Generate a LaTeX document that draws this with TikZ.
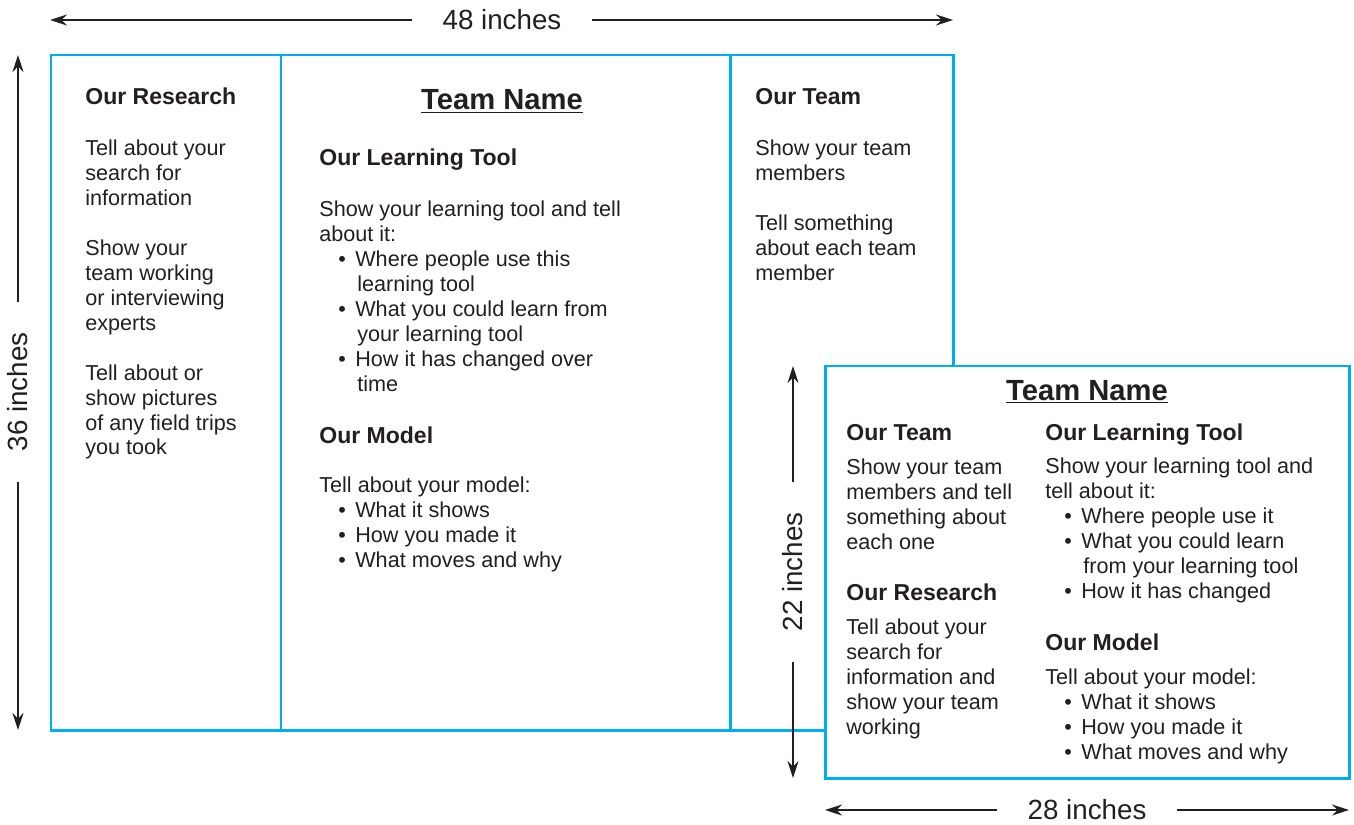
\documentclass[tikz,border=0pt]{standalone}
\usepackage{fontspec}
\setmainfont{Liberation Sans}
\usetikzlibrary{arrows.meta}
\definecolor{boardblue}{HTML}{00AEEF}
\definecolor{ink}{HTML}{231F20}
\newcommand{\bodyfont}{\fontsize{12.3}{14.2}\selectfont}
\newcommand{\headfont}{\fontsize{13.1}{15}\selectfont\bfseries}
\newcommand{\titlefont}{\fontsize{16.6}{19}\selectfont\bfseries}
\newcommand{\dimfont}{\fontsize{15.8}{18}\selectfont}
\newcommand{\itm}{\hspace*{0.38cm}\makebox[0.34cm][l]{\textbullet}}
\newcommand{\cnt}{\hspace*{0.76cm}}
\tikzset{
  board/.style={draw=boardblue, line width=1.7pt},
  txt/.style={anchor=north west, inner sep=0pt, align=left, font=\bodyfont, text=ink},
  head/.style={anchor=base west, inner sep=0pt, font=\headfont, text=ink},
  title/.style={anchor=base, inner sep=0pt, font=\titlefont, text=ink},
  dimlabel/.style={inner xsep=0.6cm, inner ysep=0pt, font=\dimfont, text=ink},
  dimline/.style={-{Stealth[length=0.34cm, width=0.22cm]}, line width=0.8pt, draw=ink}
}
\begin{document}
\begin{tikzpicture}[x=0.02cm, y=-0.02cm]
  \useasboundingbox (0,0) rectangle (1354,824);
  % large tri-fold board
  \draw[board] (51,55) rectangle (953,730);
  \draw[board] (281,55) -- (281,730);
  \draw[board] (730,55) -- (730,730);

  \node[head] (res1) at (85,105) {Our Research};
  \node[txt] (res1txt) at (85,139.5) {Tell about your\\search for\\information\\[0.5cm]Show your\\team working\\or interviewing\\experts\\[0.5cm]Tell about or\\show pictures\\of any field trips\\you took};

  \node[title] (name1) at (502,110) {\underline{Team Name}};
  \node[head] (tool1) at (319,166) {Our Learning Tool};
  \node[txt] (tool1txt) at (319,200.5) {Show your learning tool and tell\\about it:\\\itm Where people use this\\\cnt learning tool\\\itm What you could learn from\\\cnt your learning tool\\\itm How it has changed over\\\cnt time};
  \node[head] (model1) at (319,443) {Our Model};
  \node[txt] (model1txt) at (319,476.5) {Tell about your model:\\\itm What it shows\\\itm How you made it\\\itm What moves and why};

  \node[head] (team1) at (755,105) {Our Team};
  \node[txt] (team1txt) at (755,139.5) {Show your team\\members\\[0.5cm]Tell something\\about each team\\member};

  % small board
  \draw[board, fill=white] (825,366) rectangle (1349,778);
  \node[title] (name2) at (1087,400) {\underline{Team Name}};
  \node[head] (team2) at (846,440) {Our Team};
  \node[txt] (team2txt) at (846,458.5) {Show your team\\members and tell\\something about\\each one};
  \node[head] (res2) at (846,600) {Our Research};
  \node[txt] (res2txt) at (846,618.5) {Tell about your\\search for\\information and\\show your team\\working};
  \node[head] (tool2) at (1045,440) {Our Learning Tool};
  \node[txt] (tool2txt) at (1045,457.5) {Show your learning tool and\\tell about it:\\\itm Where people use it\\\itm What you could learn\\\cnt from your learning tool\\\itm How it has changed};
  \node[head] (model2) at (1045,650) {Our Model};
  \node[txt] (model2txt) at (1045,668.5) {Tell about your model:\\\itm What it shows\\\itm How you made it\\\itm What moves and why};

  % dimensions
  \node[dimlabel] (w48) at (502,20) {48 inches};
  \coordinate (w48l) at (50,20);
  \coordinate (w48r) at (953,20);
  \draw[dimline] (w48) -- (w48l);
  \draw[dimline] (w48) -- (w48r);

  \node[dimlabel, rotate=90] (h36) at (18,392) {36 inches};
  \coordinate (h36t) at (18,55);
  \coordinate (h36b) at (18,730);
  \draw[dimline] (h36) -- (h36t);
  \draw[dimline] (h36) -- (h36b);

  \node[dimlabel, rotate=90] (h22) at (793,572) {22 inches};
  \coordinate (h22t) at (793,366);
  \coordinate (h22b) at (793,778);
  \draw[dimline] (h22) -- (h22t);
  \draw[dimline] (h22) -- (h22b);

  \node[dimlabel] (w28) at (1087,810) {28 inches};
  \coordinate (w28l) at (825,810);
  \coordinate (w28r) at (1349,810);
  \draw[dimline] (w28) -- (w28l);
  \draw[dimline] (w28) -- (w28r);
\end{tikzpicture}
\end{document}
